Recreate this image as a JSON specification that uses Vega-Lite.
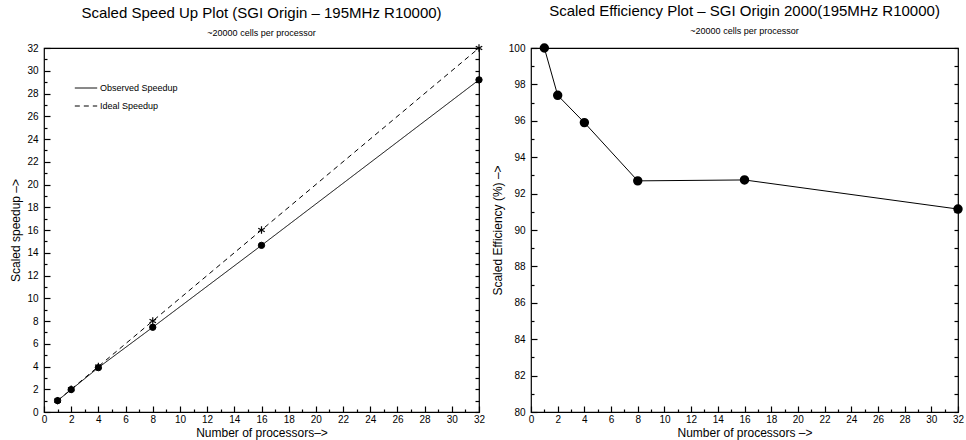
{
  "$schema": "https://vega.github.io/schema/vega-lite/v6.json",
  "background": "white",
  "padding": {"left": 9, "top": 3, "right": 6, "bottom": 4},
  "spacing": 4,
  "config": {
    "font": "Liberation Sans",
    "view": {"stroke": "black", "strokeWidth": 1.2},
    "axis": {
      "domain": false,
      "grid": false,
      "zindex": 1,
      "tickColor": "black",
      "tickWidth": 1.2,
      "labelColor": "black",
      "labelFontSize": 10,
      "titleColor": "black",
      "titleFontSize": 12,
      "titleFontWeight": "normal"
    },
    "title": {"color": "black", "subtitleColor": "black"}
  },
  "datasets": {
    "speedup": [
      {"procs": 1, "series": "Observed Speedup", "speedup": 1.0},
      {"procs": 2, "series": "Observed Speedup", "speedup": 1.97},
      {"procs": 4, "series": "Observed Speedup", "speedup": 3.9},
      {"procs": 8, "series": "Observed Speedup", "speedup": 7.45},
      {"procs": 16, "series": "Observed Speedup", "speedup": 14.65},
      {"procs": 32, "series": "Observed Speedup", "speedup": 29.2},
      {"procs": 1, "series": "Ideal Speedup", "speedup": 1},
      {"procs": 2, "series": "Ideal Speedup", "speedup": 2},
      {"procs": 4, "series": "Ideal Speedup", "speedup": 4},
      {"procs": 8, "series": "Ideal Speedup", "speedup": 8},
      {"procs": 16, "series": "Ideal Speedup", "speedup": 16},
      {"procs": 32, "series": "Ideal Speedup", "speedup": 32}
    ],
    "efficiency": [
      {"procs": 1, "eff": 100.0},
      {"procs": 2, "eff": 97.4},
      {"procs": 4, "eff": 95.9},
      {"procs": 8, "eff": 92.7},
      {"procs": 16, "eff": 92.75},
      {"procs": 32, "eff": 91.15}
    ]
  },
  "hconcat": [
    {
      "width": 435,
      "height": 364,
      "title": {
        "text": "Scaled Speed Up Plot (SGI Origin – 195MHz R10000)",
        "subtitle": "~20000 cells per processor",
        "fontSize": 15,
        "fontWeight": "normal",
        "subtitleFontSize": 9,
        "subtitlePadding": 8,
        "anchor": "middle",
        "frame": "group",
        "offset": 4
      },
      "data": {"name": "speedup"},
      "resolve": {"axis": {"x": "independent", "y": "independent"}},
      "layer": [
        {
          "mark": {"type": "line", "color": "black", "strokeWidth": 1},
          "encoding": {
            "x": {
              "field": "procs", "type": "quantitative",
              "scale": {"domain": [0, 32], "nice": false, "zero": false},
              "axis": {
                "orient": "bottom",
                "title": "Number of processors–>",
                "values": [0,1,2,3,4,5,6,7,8,9,10,11,12,13,14,15,16,17,18,19,20,21,22,23,24,25,26,27,28,29,30,31,32],
                "labelExpr": "datum.value % 2 == 0 ? datum.label : ''",
                "tickSize": {"condition": {"test": "datum.value % 2 == 0", "value": -6}, "value": -3},
                "labelPadding": 8,
                "titlePadding": 0,
                "labelFlush": false,
                "labelOverlap": false
              }
            },
            "y": {
              "field": "speedup", "type": "quantitative",
              "scale": {"domain": [0, 32], "nice": false},
              "axis": {
                "orient": "left",
                "title": "Scaled speedup –>",
                "values": [0,1,2,3,4,5,6,7,8,9,10,11,12,13,14,15,16,17,18,19,20,21,22,23,24,25,26,27,28,29,30,31,32],
                "labelExpr": "datum.value % 2 == 0 ? datum.label : ''",
                "tickSize": {"condition": {"test": "datum.value % 2 == 0", "value": -6}, "value": -3},
                "labelPadding": 12,
                "titlePadding": 4,
                "labelFlush": false,
                "labelOverlap": false
              }
            },
            "strokeDash": {
              "field": "series", "type": "nominal",
              "scale": {"domain": ["Observed Speedup", "Ideal Speedup"], "range": [[1, 0], [5, 4]]},
              "legend": {
                "title": null,
                "orient": "none",
                "legendX": 30,
                "legendY": 28,
                "symbolType": "stroke",
                "symbolSize": 500,
                "symbolStrokeColor": "black",
                "symbolStrokeWidth": 1,
                "labelFontSize": 9,
                "labelColor": "black",
                "rowPadding": 1,
                "labelOffset": 2
              }
            }
          }
        },
        {
          "transform": [{"filter": "datum.series == 'Observed Speedup'"}],
          "mark": {"type": "point", "shape": "circle", "filled": true, "fill": "black", "stroke": "black", "strokeWidth": 1, "opacity": 1, "size": 40},
          "encoding": {
            "x": {"field": "procs", "type": "quantitative", "axis": null},
            "y": {
              "field": "speedup", "type": "quantitative",
              "axis": {
                "orient": "right",
                "title": null,
                "labels": false,
                "values": [0,1,2,3,4,5,6,7,8,9,10,11,12,13,14,15,16,17,18,19,20,21,22,23,24,25,26,27,28,29,30,31,32],
                "tickSize": -4
              }
            }
          }
        },
        {
          "transform": [{"filter": "datum.series == 'Ideal Speedup'"}],
          "mark": {"type": "point", "shape": "M0,-1L0,1M-0.87,-0.5L0.87,0.5M-0.87,0.5L0.87,-0.5", "filled": false, "stroke": "black", "strokeWidth": 1.2, "opacity": 1, "size": 55},
          "encoding": {
            "x": {"field": "procs", "type": "quantitative", "axis": null},
            "y": {"field": "speedup", "type": "quantitative", "axis": null}
          }
        }
      ]
    },
    {
      "width": 427,
      "height": 364,
      "title": {
        "text": "Scaled Efficiency Plot – SGI Origin 2000(195MHz R10000)",
        "subtitle": "~20000 cells per processor",
        "fontSize": 15,
        "fontWeight": "normal",
        "subtitleFontSize": 9,
        "subtitlePadding": 8,
        "anchor": "middle",
        "frame": "group",
        "offset": 4
      },
      "data": {"name": "efficiency"},
      "resolve": {"axis": {"x": "independent", "y": "independent"}},
      "layer": [
        {
          "mark": {"type": "line", "color": "black", "strokeWidth": 1},
          "encoding": {
            "x": {
              "field": "procs", "type": "quantitative",
              "scale": {"domain": [0, 32], "nice": false, "zero": false},
              "axis": {
                "orient": "bottom",
                "title": "Number of processors –>",
                "values": [0,1,2,3,4,5,6,7,8,9,10,11,12,13,14,15,16,17,18,19,20,21,22,23,24,25,26,27,28,29,30,31,32],
                "labelExpr": "datum.value % 2 == 0 ? datum.label : ''",
                "tickSize": {"condition": {"test": "datum.value % 2 == 0", "value": -6}, "value": -3},
                "labelPadding": 8,
                "titlePadding": 0,
                "labelFlush": false,
                "labelOverlap": false
              }
            },
            "y": {
              "field": "eff", "type": "quantitative",
              "scale": {"domain": [80, 100], "nice": false, "zero": false},
              "axis": {
                "orient": "left",
                "title": "Scaled Efficiency (%) –>",
                "values": [80,81,82,83,84,85,86,87,88,89,90,91,92,93,94,95,96,97,98,99,100],
                "labelExpr": "datum.value % 2 == 0 ? datum.label : ''",
                "tickSize": {"condition": {"test": "datum.value % 2 == 0", "value": -6}, "value": -3},
                "labelPadding": 12,
                "titlePadding": 4,
                "labelFlush": false,
                "labelOverlap": false
              }
            }
          }
        },
        {
          "mark": {"type": "point", "filled": true, "fill": "black", "stroke": "black", "opacity": 1, "size": 55, "shape": "circle"},
          "encoding": {
            "x": {"field": "procs", "type": "quantitative", "axis": null},
            "y": {
              "field": "eff", "type": "quantitative",
              "axis": {
                "orient": "right",
                "title": null,
                "labels": false,
                "values": [80,81,82,83,84,85,86,87,88,89,90,91,92,93,94,95,96,97,98,99,100],
                "tickSize": -4
              }
            }
          }
        }
      ]
    }
  ]
}
